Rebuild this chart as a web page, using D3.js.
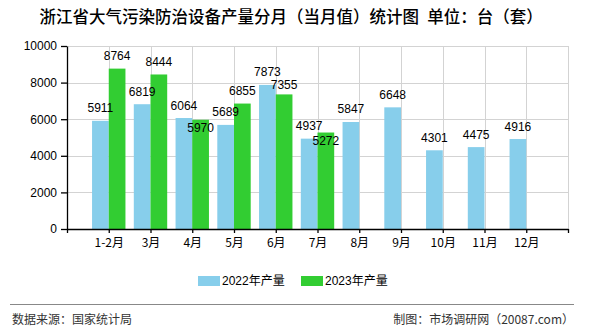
<!DOCTYPE html>
<html><head><meta charset="utf-8">
<script src="https://cdn.jsdelivr.net/npm/d3@7"></script>
<style>
body{margin:0;background:#fff;}
svg text{font-family:"Liberation Sans","Noto Sans CJK SC",sans-serif;}
</style></head>
<body><svg id="c" width="590" height="330"></svg>
<script>
const categories = ["1-2月","3月","4月","5月","6月","7月","8月","9月","10月","11月","12月"];
const values2022 = [5911,6819,6064,5689,7873,4937,5847,6648,4301,4475,4916];
const values2023 = [8764,8444,5970,6855,7355,5272,null,null,null,null,null];
const seriesNames = ["2022年产量","2023年产量"];
const yTicks = [0,2000,4000,6000,8000,10000];
const title = "浙江省大气污染防治设备产量分月（当月值）统计图\u2002单位：台（套）";
const sourceText = "数据来源：国家统计局";
const creditText = "制图：市场调研网（20087.com）";

const colors = ["#87CEEB","#32CD32"];
const cjk = '"Noto Sans CJK SC","Liberation Sans",sans-serif';
const svg = d3.select("#c");
const L=67, R=568, T=46, B=229;

const domain = ["_s"].concat(categories).concat(["_e"]);
const x = d3.scalePoint().domain(domain).range([L,R]);
const y = d3.scaleLinear().domain([0,10000]).range([B,T]);
const bw = x.step()*0.4;

// title
svg.append("text").attr("x",291).attr("y",23).attr("text-anchor","middle")
  .style("font-family",cjk).style("font-size","16.5px").style("font-weight","500").attr("fill","#000").text(title);

// grid
const g = svg.append("g");
g.selectAll(".hg").data(yTicks.filter(d=>d>0)).enter().append("line")
  .attr("x1",L).attr("x2",R).attr("y1",d=>Math.round(y(d))+0.5).attr("y2",d=>Math.round(y(d))+0.5)
  .attr("stroke","#d3d3d3");
g.selectAll(".vg").data(domain.slice(1)).enter().append("line")
  .attr("x1",d=>Math.round(x(d))+0.5).attr("x2",d=>Math.round(x(d))+0.5).attr("y1",T).attr("y2",B)
  .attr("stroke","#d3d3d3");

// bars
const bars = svg.append("g");
categories.forEach((c,i)=>{
  const cx = x(c);
  bars.append("rect").attr("x",cx-bw).attr("width",bw).attr("y",y(values2022[i])).attr("height",B-y(values2022[i])).attr("fill",colors[0]);
  if(values2023[i]!=null)
    bars.append("rect").attr("x",cx).attr("width",bw).attr("y",y(values2023[i])).attr("height",B-y(values2023[i])).attr("fill",colors[1]);
});

// axes
const ya = svg.append("g").attr("transform",`translate(${L},0)`)
  .call(d3.axisLeft(y).tickValues(yTicks).tickSize(6).tickSizeOuter(0).tickFormat(d3.format("d")));
const xa = svg.append("g").attr("transform",`translate(0,${B})`)
  .call(d3.axisBottom(x).tickSize(4).tickSizeOuter(0).tickFormat(d=>d.startsWith("_")?"":d));
[ya,xa].forEach(a=>{
  a.selectAll("path,line").attr("stroke","#000").attr("stroke-width",1.3);
  a.selectAll("text").attr("fill","#000").style("font-size","12px").style("font-family",cjk);
});
ya.selectAll("text").style("font-family",'"Liberation Sans",sans-serif').attr("dx","-1");
xa.selectAll("text").attr("dy","0.95em");

// value labels
const lab = svg.append("g").style("font-size","12px").attr("text-anchor","middle").attr("fill","#000");
const off = 12.7, lh = 13;
categories.forEach((c,i)=>{
  const cx = x(c);
  const y1 = y(values2022[i]) - off;
  lab.append("text").attr("x",cx-bw/2).attr("y",y1).attr("dy","0.35em").text(values2022[i]);
  if(values2023[i]!=null){
    const top = y(values2023[i]);
    let y2 = top - off;
    if(Math.abs(y2-y1) < lh){
      y2 = (y1+lh+6 < top) ? y1+lh : top+8;
    }
    lab.append("text").attr("x",cx+bw/2).attr("y",y2).attr("dy","0.35em").text(values2023[i]);
  }
});

// legend
const lg = svg.append("g").style("font-size","12px").style("font-family",cjk);
const lx = [198,301];
seriesNames.forEach((s,i)=>{
  lg.append("rect").attr("x",lx[i]).attr("y",276).attr("width",22).attr("height",10).attr("fill",colors[i]);
  lg.append("text").attr("x",lx[i]+24).attr("y",281).attr("dy","0.35em").attr("fill","#000").text(s);
});

// footer
svg.append("line").attr("x1",10).attr("x2",574).attr("y1",304.5).attr("y2",304.5).attr("stroke","#888").attr("stroke-width",1);
svg.append("text").attr("x",12).attr("y",325).attr("dy","-0.05em").style("font-family",cjk).style("font-size","12px").attr("fill","#333").text(sourceText);
svg.append("text").attr("x",574).attr("y",325).attr("dy","-0.05em").attr("text-anchor","end").style("font-family",cjk).style("font-size","12px").attr("fill","#333").text(creditText);
</script></body></html>
